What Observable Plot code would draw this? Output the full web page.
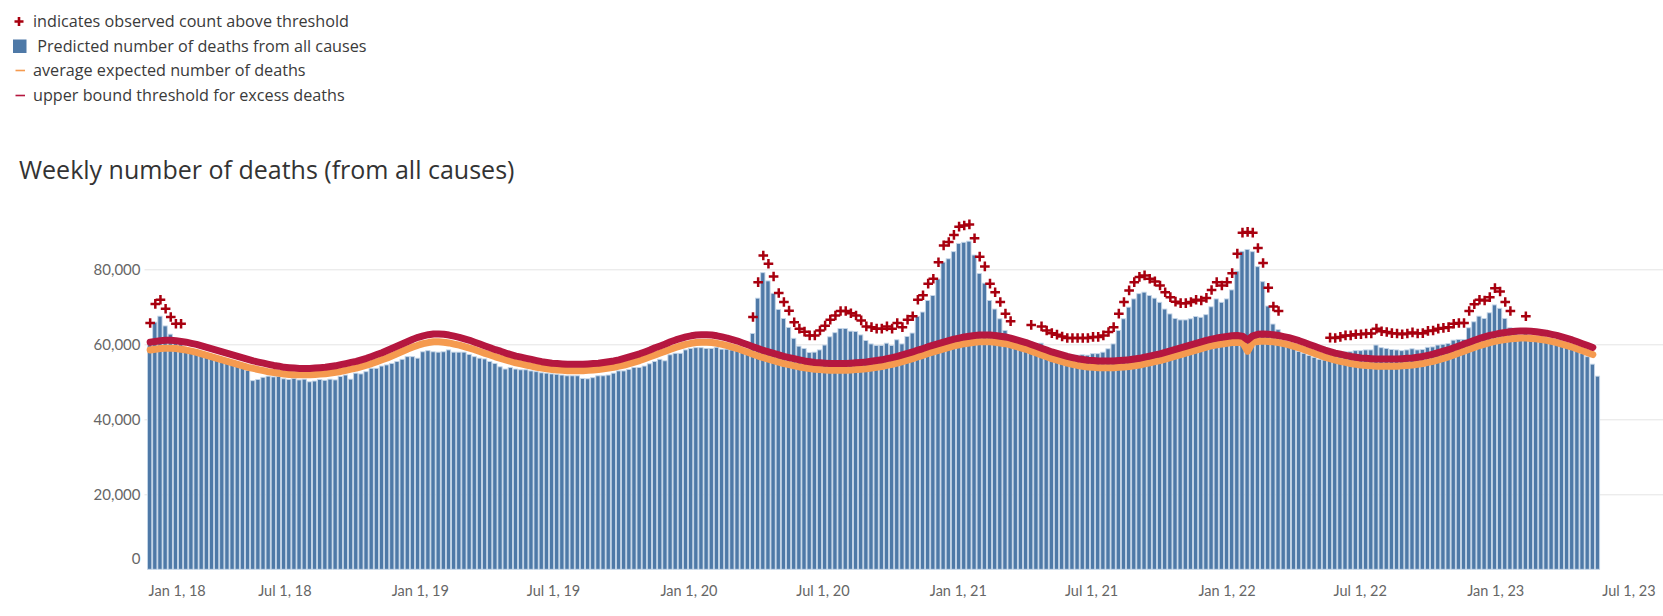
<!DOCTYPE html>
<html>
<head>
<meta charset="utf-8">
<script src="https://cdn.jsdelivr.net/npm/d3@7"></script>
<script src="https://cdn.jsdelivr.net/npm/@observablehq/plot@0.6"></script>
<style>
  html, body { margin: 0; padding: 0; background: #fff; }
  #page { position: relative; width: 1663px; height: 616px; overflow: hidden; font-family: "Open Sans", Lato, sans-serif; color: #333; }
  .lg { position: absolute; left: 0; width: 420px; height: 20px; }
  .lg svg { position: absolute; left: 0; top: 0; }
  .lg span { position: absolute; left: 33px; top: 0; line-height: 20px; font-size: 16.2px; color: #3a3a3a; white-space: pre; }
  #title { position: absolute; left: 19px; top: 153px; font-size: 25px; line-height: 32px; color: #333; white-space: nowrap; }
  #chart { position: absolute; left: 0; top: 200px; }
</style>
</head>
<body>
<div id="page">
  <div class="lg" style="top:11px"><svg width="30" height="20"><path d="M19 6 V15 M14.5 10.5 H23.5" stroke="#a8000f" stroke-width="2.6"/></svg><span>indicates observed count above threshold</span></div>
  <div class="lg" style="top:36px"><svg width="30" height="20"><rect x="13" y="3.5" width="13.5" height="13.5" fill="#4e79a7"/></svg><span> Predicted number of deaths from all causes</span></div>
  <div class="lg" style="top:60px"><svg width="30" height="20"><path d="M15.5 10.5 H25" stroke="#f59a4f" stroke-width="1.6"/></svg><span>average expected number of deaths</span></div>
  <div class="lg" style="top:85px"><svg width="30" height="20"><path d="M15.5 10.5 H25" stroke="#b5173f" stroke-width="1.6"/></svg><span>upper bound threshold for excess deaths</span></div>
  <div id="title">Weekly number of deaths (from all causes)</div>
  <div id="chart"></div>
</div>
<script>
// Weekly series, one entry per week ending Saturday, starting with the week ending Dec 30, 2017.
const firstWeekEnding = "2017-12-30";

// Predicted number of deaths from all causes (bars)
const predicted = [
  61000, 65900, 67500, 64900, 62700, 61200, 61300, 58200, 57800, 57300,
  57100, 56700, 56500, 56300, 55800, 55200, 54700, 54200, 53600, 53000,
  50300, 50600, 51200, 51500, 51300, 51400, 50800, 50600, 50900, 50500,
  50700, 50000, 50200, 50600, 50400, 50700, 50500, 51400, 51800, 50700,
  52300, 52100, 52700, 53600, 53600, 54200, 54500, 54900, 55400, 56000,
  56700, 56700, 56300, 58000, 58300, 58000, 57900, 58000, 58500, 57900,
  57900, 57900, 57300, 56700, 56300, 56100, 55400, 54900, 54000, 53400,
  53800, 53400, 53200, 53200, 52900, 52700, 52400, 52300, 52100, 52000,
  51800, 51600, 51600, 51600, 50900, 50800, 51100, 51600, 51600, 51800,
  52300, 52900, 52900, 53300, 53800, 53800, 54200, 54800, 55400, 56000,
  55600, 57200, 57600, 57600, 58500, 58900, 59100, 59100, 58900, 58900,
  59200, 58700, 58700, 58500, 58500, 58000, 57600, 62900, 72300, 79100,
  76900, 73600, 69300, 66900, 64500, 61600, 59500, 58900, 57800, 57900,
  58500, 59800, 62000, 63100, 64200, 64200, 63500, 63400, 62500, 61000,
  60100, 59700, 59700, 60300, 59700, 61200, 60100, 62100, 63000, 67400,
  68600, 71700, 73000, 77400, 81900, 82800, 84700, 86900, 87200, 87500,
  83800, 78900, 76300, 71700, 69400, 66800, 63700, 61700, 60800, 60200,
  60000, 60700, 59300, 60300, 59200, 58500, 58100, 57600, 57200, 57200,
  57100, 57200, 57100, 57500, 57500, 57900, 58800, 60100, 63700, 66800,
  69900, 72100, 73500, 73900, 73000, 72300, 71200, 69400, 68100, 66900,
  66500, 66500, 66800, 67400, 67200, 67900, 70000, 72100, 71200, 72100,
  74500, 79500, 84800, 85300, 84700, 80700, 76700, 70200, 65400, 63900,
  59800, 59300, 58900, 58100, 57600, 57000, 56500, 56000, 55800, 57400,
  57300, 57600, 58000, 58000, 58300, 58300, 58500, 58500, 59800, 59100,
  58900, 58600, 58500, 58300, 58500, 58800, 58500, 58600, 59200, 59300,
  59800, 60000, 60200, 61100, 61300, 61300, 64400, 66000, 67500, 66900,
  68400, 70500, 69600, 66900, 64400, 62800, 62300, 63200, 62000, 61800,
  61500, 61200, 60800, 60400, 59800, 59300, 58800, 58300, 57600, 56700,
  54700, 51500
];

// Average expected number of deaths (orange line)
const expected = [
  58600, 58800, 59000, 59100, 59100, 59000, 58800, 58600, 58300, 58000,
  57600, 57200, 56800, 56400, 56000, 55600, 55200, 54800, 54400, 54000,
  53700, 53400, 53100, 52800, 52600, 52400, 52200, 52100, 52000, 52000,
  52000, 52000, 52100, 52200, 52300, 52500, 52700, 52900, 53200, 53500,
  53800, 54200, 54600, 55000, 55500, 56000, 56500, 57100, 57700, 58300,
  58900, 59400, 59900, 60300, 60600, 60800, 60800, 60700, 60500, 60200,
  59900, 59500, 59100, 58700, 58200, 57700, 57300, 56800, 56400, 56000,
  55600, 55200, 54900, 54600, 54300, 54000, 53800, 53600, 53400, 53300,
  53200, 53100, 53100, 53100, 53100, 53200, 53300, 53400, 53600, 53800,
  54000, 54300, 54600, 55000, 55400, 55800, 56300, 56800, 57300, 57800,
  58300, 58800, 59300, 59700, 60100, 60400, 60600, 60700, 60700, 60600,
  60400, 60100, 59800, 59400, 59000, 58500, 58000, 57500, 57000, 56600,
  56200, 55800, 55400, 55000, 54700, 54400, 54100, 53900, 53700, 53500,
  53400, 53300, 53200, 53200, 53200, 53200, 53300, 53400, 53500, 53600,
  53800, 54000, 54200, 54500, 54800, 55100, 55500, 55900, 56300, 56800,
  57200, 57700, 58100, 58500, 58900, 59300, 59700, 60000, 60300, 60500,
  60700, 60800, 60800, 60800, 60700, 60500, 60300, 60000, 59600, 59200,
  58800, 58300, 57800, 57300, 56800, 56300, 55900, 55500, 55100, 54800,
  54500, 54300, 54100, 54000, 53900, 53900, 53900, 53900, 54000, 54100,
  54200, 54400, 54600, 54900, 55200, 55500, 55800, 56200, 56600, 57000,
  57400, 57800, 58200, 58600, 59000, 59400, 59700, 60000, 60200, 60400,
  60600, 60700, 60600, 58300, 60700, 60900, 61000, 60900, 60800, 60600,
  60300, 60000, 59600, 59200, 58700, 58200, 57700, 57200, 56700, 56300,
  55900, 55600, 55300, 55000, 54800, 54600, 54500, 54400, 54300, 54300,
  54300, 54300, 54300, 54400, 54500, 54600, 54800, 55000, 55300, 55600,
  56000, 56400, 56800, 57300, 57800, 58300, 58800, 59300, 59800, 60200,
  60600, 60900, 61200, 61400, 61600, 61700, 61800, 61800, 61700, 61600,
  61400, 61200, 60900, 60600, 60200, 59800, 59400, 58900, 58400, 57900,
  57400
];

// Upper bound threshold for excess deaths (red line)
const upperBound = [
  60700, 60900, 61100, 61200, 61200, 61100, 60900, 60700, 60400, 60100,
  59700, 59300, 58900, 58500, 58100, 57700, 57300, 56900, 56500, 56100,
  55700, 55400, 55100, 54800, 54500, 54300, 54000, 53900, 53800, 53700,
  53700, 53700, 53800, 53900, 54000, 54200, 54400, 54700, 55000, 55300,
  55600, 56000, 56400, 56900, 57400, 57900, 58500, 59100, 59700, 60300,
  60900, 61500, 62000, 62400, 62700, 62900, 62900, 62800, 62600, 62300,
  62000, 61600, 61200, 60700, 60200, 59700, 59200, 58700, 58300, 57800,
  57400, 57000, 56700, 56400, 56100, 55800, 55500, 55300, 55100, 55000,
  54900, 54800, 54800, 54800, 54800, 54900, 55000, 55100, 55300, 55500,
  55700, 56000, 56400, 56800, 57200, 57600, 58100, 58600, 59200, 59700,
  60200, 60800, 61300, 61700, 62100, 62400, 62600, 62700, 62700, 62600,
  62400, 62100, 61800, 61400, 61000, 60500, 60000, 59500, 59000, 58500,
  58100, 57700, 57300, 56900, 56600, 56300, 56000, 55700, 55500, 55300,
  55200, 55100, 55000, 55000, 55000, 55000, 55100, 55200, 55300, 55400,
  55600, 55800, 56000, 56300, 56600, 56900, 57300, 57700, 58100, 58600,
  59000, 59500, 59900, 60300, 60700, 61100, 61500, 61800, 62100, 62300,
  62500, 62600, 62600, 62600, 62500, 62300, 62100, 61800, 61400, 61000,
  60600, 60100, 59600, 59100, 58600, 58100, 57700, 57300, 56900, 56600,
  56300, 56100, 55900, 55800, 55700, 55700, 55700, 55700, 55800, 55900,
  56000, 56200, 56400, 56700, 57000, 57300, 57600, 58000, 58400, 58800,
  59200, 59600, 60000, 60400, 60800, 61200, 61500, 61800, 62000, 62200,
  62400, 62500, 62300, 61300, 62400, 62800, 62900, 62800, 62700, 62500,
  62200, 61900, 61500, 61100, 60600, 60100, 59600, 59100, 58600, 58200,
  57800, 57500, 57200, 56900, 56700, 56500, 56400, 56300, 56200, 56200,
  56200, 56200, 56200, 56300, 56400, 56500, 56700, 56900, 57200, 57500,
  57900, 58300, 58700, 59200, 59700, 60200, 60700, 61200, 61700, 62100,
  62500, 62800, 63100, 63300, 63500, 63600, 63700, 63700, 63600, 63500,
  63300, 63100, 62800, 62500, 62100, 61700, 61300, 60800, 60300, 59800,
  59300
];

// Weeks where the observed count was above the threshold: [first week index, marker heights...]
const aboveThresholdRuns = [
  [0, [65800, 70900, 72000, 69600, 67400, 65600, 65600]],
  [117, [67400, 76700, 83800, 81600, 78200, 73800, 71400, 69100, 66000, 64300,
         63500, 62500, 62500, 63800, 65100, 66700, 67800, 69000, 69000, 68400,
         67800, 66500, 64900, 64700, 64300, 64300, 64900, 64300, 65800, 64700,
         66700, 67600, 72000, 73200, 76300, 77600, 82000, 86500, 87400, 89300,
         91500, 91800, 92100, 88400, 83500, 80900, 76300, 74000, 71400, 68300,
         66300]],
  [171, [65300]],
  [173, [64900, 63800, 63100, 62700, 62200, 61800, 61800, 61800, 61800, 61800,
         62100, 62100, 62500, 63400, 64700, 68300, 71400, 74500, 76700, 78100,
         78500, 77600, 76900, 75800, 74000, 72700, 71500, 71100, 71100, 71400,
         72000, 71800, 72500, 74600, 76700, 75800, 76700, 79100, 84300, 89900,
         90100, 89900, 85800, 81800, 75200, 70200, 69000]],
  [229, [61900, 61800, 62100, 62500, 62500, 62800, 62800, 63000, 63000, 64300,
         63600, 63400, 63100, 63000, 62800, 63000, 63300, 63000, 63100, 63700,
         63800, 64300, 64500, 64700, 65600, 65800, 65800, 69000, 70800, 72000,
         71800, 72700, 75100, 74200, 71400, 69000]],
  [267, [67600]]
];

// Axis ticks
const yTicks = [0, 20000, 40000, 60000, 80000];
const xTicks = ["2018-01-01", "2018-07-01", "2019-01-01", "2019-07-01", "2020-01-01", "2020-07-01",
                "2021-01-01", "2021-07-01", "2022-01-01", "2022-07-01", "2023-01-01", "2023-07-01"];

// ---- build the table ----
const DAY = 864e5;
const t0 = Date.parse(firstWeekEnding + "T00:00:00Z");
const weeks = predicted.map((v, i) => ({
  date: new Date(t0 + 7 * i * DAY),
  predicted: v,
  expected: expected[i] ?? null,
  upper: upperBound[i] ?? null
}));
const markers = aboveThresholdRuns.flatMap(([start, vals]) =>
  vals.map((v, k) => ({date: weeks[start + k].date, value: v})));
const lineRows = weeks.filter(d => d.expected != null);
const tickDates = xTicks.map(s => new Date(s + "T00:00:00Z"));
const axisFont = {fontSize: 14.5, fill: "#666"};

const chart = Plot.plot({
  width: 1663,
  height: 416,
  marginLeft: 144.5,
  marginRight: 0,
  marginTop: 0,
  marginBottom: 46.7,
  style: {fontFamily: "Lato, 'Open Sans', sans-serif", background: "transparent"},
  x: {type: "utc", domain: [new Date("2017-12-23T00:00:00Z"), new Date("2023-08-17T00:00:00Z")]},
  y: {domain: [0, 98480]},
  marks: [
    Plot.gridY([20000, 40000, 60000, 80000], {stroke: "#e4e4e4", strokeOpacity: 1, strokeWidth: 1}),
    Plot.rectY(weeks, {
      x1: d => new Date(+d.date - 3.5 * DAY),
      x2: d => new Date(+d.date + 3.5 * DAY),
      y: "predicted",
      fill: "#4e79a7",
      stroke: "#c5d6e8",
      strokeWidth: 0.9,
      insetLeft: 0.45,
      insetRight: 0.45
    }),
    Plot.lineY(lineRows, {x: "date", y: "expected", stroke: "#f59a4f", strokeWidth: 7, strokeLinecap: "round", strokeLinejoin: "round"}),
    Plot.lineY(lineRows, {x: "date", y: "upper", stroke: "#b5173f", strokeWidth: 7, strokeLinecap: "round", strokeLinejoin: "round"}),
    Plot.dot(markers, {x: "date", y: "value", symbol: "plus", r: 3.2, stroke: "#a8000f", strokeWidth: 2.5}),
    Plot.axisY(yTicks.filter(d => d > 0), {tickSize: 0, tickPadding: 4.5, fontSize: 15, fill: "#666", tickFormat: d3.format(",")}),
    Plot.axisY([0], {tickSize: 0, tickPadding: 4.5, fontSize: 15, fill: "#666", dy: -11, tickFormat: d3.format(",")}),
    Plot.axisX(tickDates.slice(1), {tickSize: 0, tickPadding: 15.6, ...axisFont, tickFormat: d3.utcFormat("%b %-d, %y")}),
    Plot.axisX(tickDates.slice(0, 1), {tickSize: 0, tickPadding: 15.6, ...axisFont, textAnchor: "start", dx: -3, tickFormat: d3.utcFormat("%b %-d, %y")})
  ]
});
document.getElementById("chart").appendChild(chart);
</script>
</body>
</html>
